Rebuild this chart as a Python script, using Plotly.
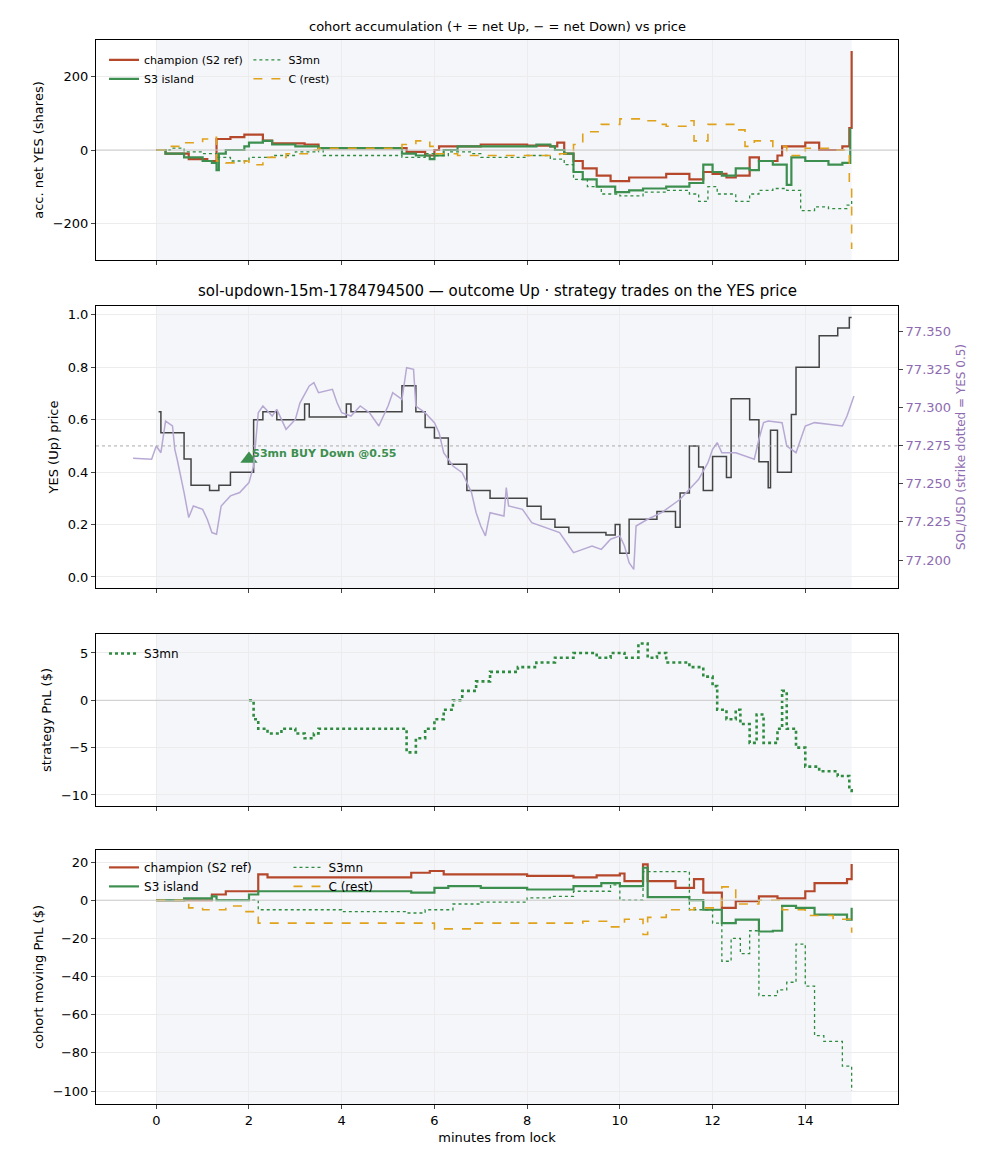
#Carga librerias
import plotly.graph_objects as go

#Datos (minutos desde lock)
#Panel 1: acumulado neto YES por cohorte
champ_acc_t = [0, 0.2, 0.7, 1.1, 1.3, 1.6, 1.9, 2.3, 2.5, 3.2, 3.5, 5.4, 5.8, 6.0, 6.1, 7.0, 8.0, 8.5, 8.65, 8.8, 9.0, 9.2, 9.5, 9.8, 10.2, 11.0, 11.5, 11.8, 12.0, 12.3, 12.5, 12.8, 13.0, 13.4, 13.5, 14.0, 14.3, 14.8, 14.95, 15.0]
champ_acc_v = [0, -10, -25, -30, 30, 35, 42, 26, 18, 15, 5, -5, -15, 0, 10, 15, 12, 10, 20, -10, -30, -50, -70, -85, -75, -65, -80, -60, -65, -75, -70, -20, -30, -15, 10, 20, 0, 10, 60, 270]
isl_acc_t = [0, 0.2, 0.6, 1.0, 1.2, 1.3, 1.35, 1.5, 1.9, 2.0, 2.3, 2.5, 3.0, 3.5, 5.3, 5.6, 5.9, 6.0, 6.2, 6.5, 8.2, 8.5, 8.6, 8.8, 9.0, 9.2, 9.5, 9.9, 10.2, 10.5, 11.0, 11.5, 11.8, 12.0, 12.2, 12.5, 12.8, 13.0, 13.3, 13.6, 13.7, 14.0, 14.5, 14.8, 14.97]
isl_acc_v = [0, -10, -20, -30, -35, -55, -10, 0, 10, 20, 25, 15, 10, 5, -10, -15, -25, -15, 0, 10, 15, 10, 0, -10, -60, -80, -100, -115, -110, -105, -100, -90, -40, -60, -70, -50, -55, -30, -40, -95, -20, -30, -40, -35, 60]
mn_acc_t = [0, 0.3, 0.6, 1.0, 1.3, 1.6, 2.0, 2.5, 3.0, 3.5, 3.6, 5.3, 5.8, 6.0, 6.3, 6.8, 7.0, 8.0, 8.5, 8.8, 9.0, 9.3, 9.6, 10.0, 10.5, 11.0, 11.5, 11.7, 11.9, 12.1, 12.5, 12.8, 13.0, 13.3, 13.6, 13.9, 14.2, 14.5, 14.9, 15.0]
mn_acc_v = [0, 5, -5, -10, -20, -30, -20, -15, -5, 0, -15, -20, -10, -15, -5, -10, -20, -15, -25, -40, -80, -100, -120, -125, -115, -110, -120, -140, -100, -120, -140, -120, -110, -105, -110, -165, -155, -160, -150, -130]
rest_acc_t = [0, 0.3, 0.6, 1.0, 1.2, 1.3, 1.5, 1.9, 2.0, 2.3, 2.8, 3.3, 3.5, 5.0, 5.3, 5.6, 5.9, 6.0, 6.5, 8.7, 9.0, 9.2, 9.6, 10.0, 10.5, 10.8, 11.0, 11.5, 11.6, 11.9, 12.5, 12.7, 12.9, 13.3, 13.6, 14.0, 14.5, 14.95, 15.0]
rest_acc_v = [0, 10, 20, 30, 35, -30, -35, -30, -40, -20, -10, 0, 5, 5, 15, 25, 10, -10, -15, -10, 15, 50, 70, 85, 80, 70, 65, 80, 25, 70, 55, 10, 25, 10, -15, 5, 0, -100, -270]

#Panel 2: precio YES y SOL/USD
yes_t = [0.05, 0.1, 0.6, 0.75, 1.15, 1.35, 1.6, 2.1, 2.3, 2.6, 3.2, 3.3, 4.1, 4.2, 5.3, 5.6, 5.8, 6.0, 6.3, 6.7, 7.2, 8.0, 8.3, 8.6, 8.9, 9.7, 9.9, 10.0, 10.2, 10.8, 11.2, 11.3, 11.5, 11.7, 11.8, 12.0, 12.3, 12.4, 12.8, 13.0, 13.2, 13.25, 13.4, 13.7, 13.8, 14.3, 14.7, 14.95, 15.0]
yes_v = [0.63, 0.55, 0.45, 0.35, 0.33, 0.35, 0.40, 0.60, 0.63, 0.60, 0.66, 0.61, 0.66, 0.63, 0.73, 0.63, 0.57, 0.53, 0.43, 0.33, 0.30, 0.27, 0.22, 0.19, 0.17, 0.16, 0.20, 0.09, 0.22, 0.25, 0.19, 0.32, 0.50, 0.42, 0.33, 0.46, 0.38, 0.68, 0.60, 0.44, 0.34, 0.56, 0.40, 0.62, 0.80, 0.92, 0.95, 0.99, 0.99]
sol_t = [-0.5, -0.1, 0, 0.1, 0.2, 0.35, 0.4, 0.45, 0.6, 0.7, 0.8, 1.0, 1.1, 1.2, 1.3, 1.4, 1.6, 1.8, 2.0, 2.1, 2.2, 2.3, 2.5, 2.6, 2.8, 3.0, 3.1, 3.3, 3.4, 3.5, 3.8, 3.9, 4.0, 4.2, 4.4, 4.6, 4.8, 5.0, 5.1, 5.3, 5.4, 5.55, 5.6, 5.8, 6.0, 6.1, 6.2, 6.4, 6.6, 6.8, 6.9, 7.0, 7.1, 7.2, 7.5, 7.55, 7.6, 7.9, 8.1, 8.3, 8.5, 8.7, 8.9, 9.0, 9.2, 9.4, 9.6, 9.8, 10.0, 10.1, 10.2, 10.3, 10.35, 10.6, 10.9, 11.1, 11.3, 11.5, 11.7, 11.9, 12.0, 12.1, 12.2, 12.5, 12.9, 13.0, 13.1, 13.2, 13.5, 13.6, 13.8, 14.0, 14.2, 14.5, 14.8, 14.9, 15.0, 15.05]
sol_v = [77.2666, 77.2660, 77.2747, 77.2703, 77.2910, 77.2878, 77.2725, 77.2660, 77.2442, 77.2278, 77.2354, 77.2332, 77.2267, 77.2180, 77.2169, 77.2354, 77.2420, 77.2442, 77.2507, 77.2616, 77.2965, 77.3009, 77.2943, 77.2987, 77.2856, 77.2921, 77.3030, 77.3140, 77.3162, 77.3096, 77.3118, 77.3030, 77.2965, 77.2943, 77.3009, 77.2965, 77.2878, 77.3009, 77.3096, 77.3052, 77.3260, 77.3249, 77.3009, 77.2965, 77.2900, 77.2834, 77.2703, 77.2616, 77.2572, 77.2442, 77.2310, 77.2223, 77.2158, 77.2310, 77.2288, 77.2474, 77.2354, 77.2332, 77.2245, 77.2223, 77.2201, 77.2180, 77.2092, 77.2048, 77.2070, 77.2092, 77.2070, 77.2136, 77.2158, 77.2092, 77.1983, 77.1939, 77.2223, 77.2267, 77.2310, 77.2354, 77.2398, 77.2463, 77.2529, 77.2638, 77.2725, 77.2769, 77.2703, 77.2703, 77.2660, 77.2791, 77.2900, 77.2910, 77.2900, 77.2747, 77.2703, 77.2878, 77.2900, 77.2890, 77.2878, 77.2943, 77.3030, 77.3074]
strike_yes = 0.5
buy_t = [2.0]
buy_p = [0.45]

#Panel 3: PnL de la estrategia S3mn
pnl_t = [2.0, 2.1, 2.2, 2.4, 2.7, 3.0, 3.2, 3.4, 3.5, 5.4, 5.6, 5.8, 6.0, 6.2, 6.4, 6.6, 6.9, 7.2, 7.8, 8.2, 8.6, 9.0, 9.5, 9.8, 10.1, 10.4, 10.6, 10.8, 11.0, 11.5, 11.8, 12.0, 12.1, 12.3, 12.5, 12.6, 12.8, 12.95, 13.1, 13.4, 13.5, 13.6, 13.8, 14.0, 14.3, 14.7, 14.95, 15.0]
pnl_v = [0, -2, -3, -3.5, -3, -3.5, -4, -3.5, -3, -5.5, -4, -3, -2, -1, 0, 1, 2, 3, 3.5, 4, 4.5, 5, 4.5, 5, 4.5, 6, 4.5, 5, 4, 3.5, 2.5, 1.5, -1, -2, -1, -2.5, -4.5, -1.5, -4.5, -3, 1, -3, -5, -7, -7.5, -8, -9.5, -10]

#Panel 4: PnL movil por cohorte
champ_pnl_t = [0, 1.2, 1.5, 2.2, 2.4, 5.5, 5.9, 6.2, 8.0, 9.0, 9.5, 10.0, 10.1, 10.5, 10.6, 11.2, 11.6, 11.8, 12.2, 12.5, 13.0, 13.4, 14.0, 14.2, 14.9, 15.0]
champ_pnl_v = [0, 3, 4.7, 13.5, 12, 14.4, 15.3, 13.5, 12.7, 12, 13, 14, 10, 18.8, 10, 6.5, 11, 4, -4, -0.5, 2, 1, 4.7, 9, 11, 19]
isl_pnl_t = [0, 0.6, 1.2, 1.3, 2.0, 2.2, 5.5, 6.0, 6.3, 7.0, 8.0, 9.0, 9.6, 10.0, 10.5, 10.6, 11.5, 11.8, 12.2, 12.5, 13.0, 13.3, 13.5, 13.8, 14.2, 14.9, 15.0]
isl_pnl_v = [0, 1, 2, 0, 3, 4.7, 4, 6.5, 7.4, 6.5, 5.6, 7.4, 9, 7.4, 17, 1.6, 0, -5, -12, -10.2, -16.4, -16, -3, -4, -7.6, -10.2, -4]
mn_pnl_t = [0, 2.2, 4.0, 5.4, 5.8, 6.4, 7.0, 8.0, 8.5, 9.0, 9.8, 10.0, 10.5, 11.5, 12.0, 12.2, 12.4, 12.6, 12.8, 13.0, 13.4, 13.6, 13.8, 14.0, 14.2, 14.4, 14.8, 15.0]
mn_pnl_v = [0, -5, -6, -6.7, -5, -2, -1, 1.2, 2, 4.7, 8, 0, 15, -5, -12, -32, -20, -28, -16, -50, -47, -43, -23, -45, -71, -74, -87, -100]
rest_pnl_t = [0, 0.7, 1.0, 1.5, 1.9, 2.2, 6.0, 6.8, 9.2, 9.8, 10.1, 10.5, 10.6, 11.0, 11.6, 12.2, 12.5, 13.0, 13.5, 14.0, 14.6, 15.0]
rest_pnl_v = [0, -4, -5, -3, -6, -12, -15, -12, -11, -14, -10, -18, -9, -5, -4, 7, -2, 0, -5, -8, -10, -17]

#Colores
c_champ = '#b5472b'
c_isl = '#3d8f4f'
c_mn = '#2e8b40'
c_rest = '#e0a21b'
c_sol = '#8e6bb0'

#####################################################
#Genera grafico
fig = go.Figure()

def cohortes(t1, v1, t2, v2, t3, v3, t4, v4, xa, ya, l1, l2):
    fig.add_trace(go.Scatter(x=t1, y=v1, mode='lines', line_shape='hv', name='champion (S2 ref)', xaxis=xa, yaxis=ya,
                             line=dict(color=c_champ, width=2.2), legend=l1))
    fig.add_trace(go.Scatter(x=t2, y=v2, mode='lines', line_shape='hv', name='S3 island', xaxis=xa, yaxis=ya,
                             line=dict(color=c_isl, width=2.2), legend=l1))
    fig.add_trace(go.Scatter(x=t3, y=v3, mode='lines', line_shape='hv', name='S3mn', xaxis=xa, yaxis=ya,
                             line=dict(color=c_mn, width=1.3, dash='dot'), legend=l2))
    fig.add_trace(go.Scatter(x=t4, y=v4, mode='lines', line_shape='hv', name='C (rest)', xaxis=xa, yaxis=ya,
                             line=dict(color=c_rest, width=1.6, dash='dash'), legend=l2))

cohortes(champ_acc_t, champ_acc_v, isl_acc_t, isl_acc_v, mn_acc_t, mn_acc_v, rest_acc_t, rest_acc_v, 'x', 'y', 'legend', 'legend2')

#Precio YES y SOL/USD
fig.add_trace(go.Scatter(x=sol_t, y=sol_v, mode='lines', line=dict(color='#b7a9d3', width=1.5), xaxis='x2', yaxis='y5', showlegend=False))
fig.add_trace(go.Scatter(x=yes_t, y=yes_v, mode='lines', line_shape='hv', line=dict(color='#444444', width=1.5), xaxis='x2', yaxis='y2', showlegend=False))
fig.add_trace(go.Scatter(x=buy_t, y=buy_p, mode='markers', marker=dict(symbol='triangle-up', size=15, color=c_isl), xaxis='x2', yaxis='y2', showlegend=False))
fig.add_annotation(text='<b>S3mn BUY Down @0.55</b>', x=2.03, y=0.47, xref='x2', yref='y2', xanchor='left', showarrow=False,
                   font=dict(color=c_isl, size=11))

#PnL estrategia
fig.add_trace(go.Scatter(x=pnl_t, y=pnl_v, mode='lines', line_shape='hv', name='S3mn', line=dict(color=c_mn, width=2.6, dash='dot'),
                         xaxis='x3', yaxis='y3', legend='legend3'))

cohortes(champ_pnl_t, champ_pnl_v, isl_pnl_t, isl_pnl_v, mn_pnl_t, mn_pnl_v, rest_pnl_t, rest_pnl_v, 'x4', 'y4', 'legend4', 'legend5')

#Sombreado de la ventana y lineas de referencia
for ax in ['', '2', '3', '4']:
    fig.add_shape(type='rect', xref='x' + ax, yref='y' + ax + ' domain', x0=0, x1=15, y0=0, y1=1,
                  fillcolor='#f5f6fa', line_width=0, layer='below')
fig.add_shape(type='line', xref='paper', yref='y2', x0=0, x1=1, y0=strike_yes, y1=strike_yes,
              line=dict(color='#aaaaaa', width=1, dash='dot'))
for ax in ['', '3', '4']:
    fig.add_shape(type='line', xref='paper', yref='y' + ax, x0=0, x1=1, y0=0, y1=0, line=dict(color='#cccccc', width=1))

#Ejes
eje = dict(range=[-1.3, 16.0], tickvals=[0, 2, 4, 6, 8, 10, 12, 14], showgrid=True, gridcolor='#ececec', zeroline=False,
           showline=True, linecolor='black', mirror=True, ticks='outside', ticklen=4, automargin=False)
ejey = dict(showgrid=True, gridcolor='#ececec', zeroline=False, showline=True, linecolor='black', mirror=True,
            ticks='outside', ticklen=4, automargin=False)

def titulo(texto, color='black', size=13):
    return dict(text=texto, font=dict(size=size, color=color), standoff=6)

fig.update_layout(
    xaxis=dict(eje, anchor='y', showticklabels=False),
    xaxis2=dict(eje, anchor='y2', matches='x', showticklabels=False),
    xaxis3=dict(eje, anchor='y3', matches='x', showticklabels=False),
    xaxis4=dict(eje, anchor='y4', matches='x', title=titulo('minutes from lock')),
    yaxis=dict(ejey, domain=[0.7932, 1.0], range=[-300, 300], tickvals=[-200, 0, 200], title=titulo('acc. net YES (shares)')),
    yaxis2=dict(ejey, domain=[0.485, 0.75], range=[-0.042, 1.034], dtick=0.2, tickformat='.1f', title=titulo('YES (Up) price')),
    yaxis5=dict(overlaying='y2', side='right', anchor='x2', range=[77.1817, 77.3664], dtick=0.025, tick0=77.2, tickformat='.3f',
                ticks='outside', ticklen=4, showgrid=False, zeroline=False, automargin=False, tickfont=dict(color=c_sol),
                title=titulo('SOL/USD (strike dotted = YES 0.5)', c_sol, 12)),
    yaxis3=dict(ejey, domain=[0.2801, 0.4417], range=[-11.16, 7.0], dtick=5, title=titulo('strategy PnL ($)')),
    yaxis4=dict(ejey, domain=[0.0, 0.2387], range=[-106.8, 26.3], dtick=20, title=titulo('cohort moving PnL ($)')),
    legend=dict(x=0.01, y=0.995, yanchor='top', bgcolor='rgba(0,0,0,0)', font=dict(size=11)),
    legend2=dict(x=0.19, y=0.995, yanchor='top', bgcolor='rgba(0,0,0,0)', font=dict(size=11)),
    legend3=dict(x=0.01, y=0.437, yanchor='top', bgcolor='rgba(0,0,0,0)', font=dict(size=12)),
    legend4=dict(x=0.01, y=0.236, yanchor='top', bgcolor='rgba(0,0,0,0)', font=dict(size=12)),
    legend5=dict(x=0.24, y=0.236, yanchor='top', bgcolor='rgba(0,0,0,0)', font=dict(size=12)),
    width=988, height=1156, margin=dict(l=88, r=98, t=32, b=60, autoexpand=False),
    plot_bgcolor='white', paper_bgcolor='white',
    font=dict(family='DejaVu Sans', size=13, color='black'),
)
fig.add_annotation(text='cohort accumulation (+ = net Up, − = net Down) vs price', xref='paper', yref='paper', x=0.5, y=1.0,
                   yanchor='bottom', yshift=4, showarrow=False, font=dict(size=13))
fig.add_annotation(text='sol-updown-15m-1784794500 — outcome Up · strategy trades on the YES price', xref='paper', yref='paper',
                   x=0.5, y=0.75, yanchor='bottom', yshift=4, showarrow=False, font=dict(size=15))

fig.write_html('out.html')
